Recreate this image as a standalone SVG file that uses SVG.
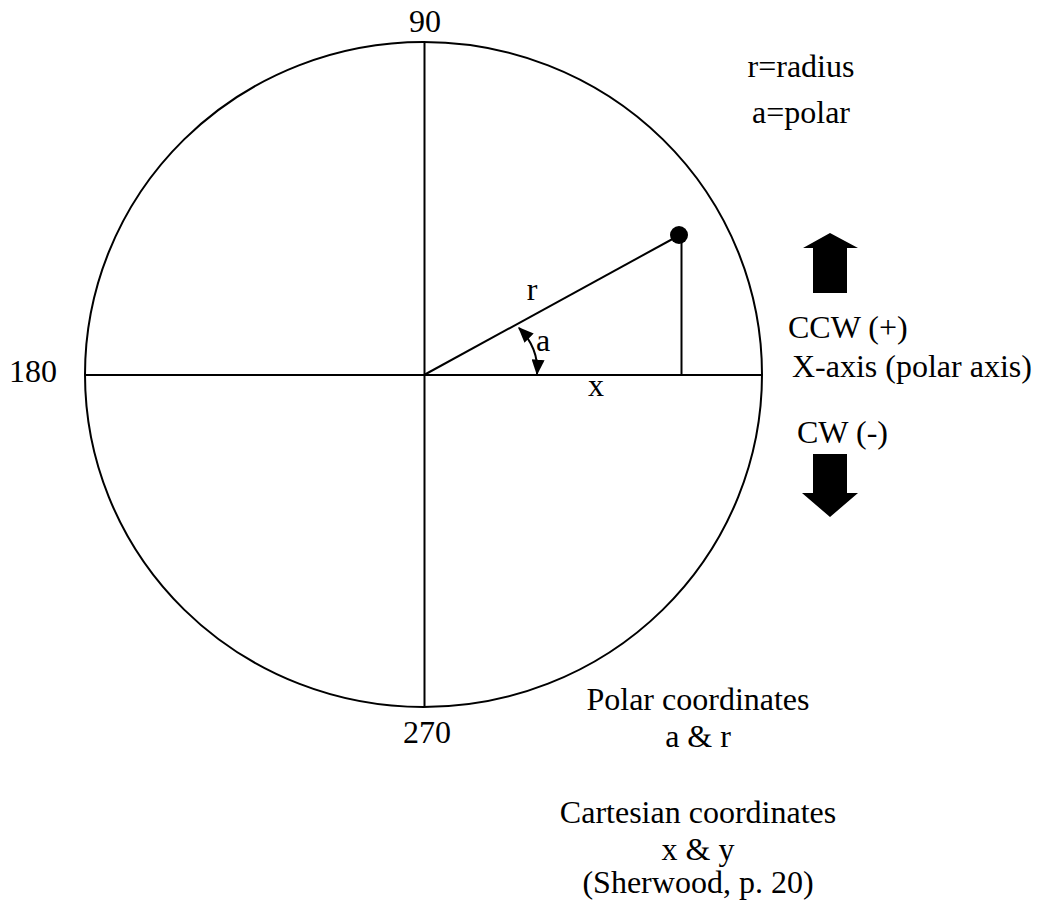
<svg xmlns="http://www.w3.org/2000/svg" width="1044" height="909" viewBox="0 0 1044 909">
<style>
  .ln { stroke:#000; stroke-width:2; fill:none; }
  .t { font-family:"Liberation Serif","Times New Roman",serif; font-size:32px; fill:#000; }
  .m { text-anchor:middle; }
</style>
<defs>
  <marker id="ah2" viewBox="0 0 12 10" refX="11" refY="5" markerWidth="16" markerHeight="13" markerUnits="userSpaceOnUse" orient="auto-start-reverse">
    <path d="M0,0 L12,5 L0,10 z" fill="#000"/>
  </marker>
</defs>
<rect width="1044" height="909" fill="#fff"/>
<g id="circle">
  <ellipse class="ln" cx="423.5" cy="374.5" rx="338.5" ry="332.5"/>
</g>
<g id="connectors">
  <line class="ln" x1="85" y1="375" x2="762" y2="375"/>
  <line class="ln" x1="424.5" y1="42" x2="424.5" y2="707"/>
  <line class="ln" x1="424" y1="375" x2="678" y2="236"/>
  <line class="ln" x1="681.5" y1="236" x2="681.5" y2="375"/>
  <path class="ln" d="M519,328 Q539,348 537,374" marker-start="url(#ah2)" marker-end="url(#ah2)"/>
</g>
<g id="point">
  <circle cx="679" cy="235" r="9" fill="#000"/>
</g>
<g id="labels">
  <text class="t m" x="425" y="32">90</text>
  <text class="t" x="9" y="382">180</text>
  <text class="t m" x="427" y="743">270</text>
  <text class="t m" x="532" y="300">r</text>
  <text class="t m" x="543" y="351">a</text>
  <text class="t m" x="596" y="396">x</text>
  <text class="t m" x="801" y="77">r=radius</text>
  <text class="t m" x="801" y="123">a=polar</text>
  <text class="t" x="788" y="338">CCW (+)</text>
  <text class="t" x="792" y="377">X-axis (polar axis)</text>
  <text class="t" x="797" y="443">CW (-)</text>
  <text class="t m" x="698" y="710">Polar coordinates</text>
  <text class="t m" x="698" y="747">a &amp; r</text>
  <text class="t m" x="698" y="823">Cartesian coordinates</text>
  <text class="t m" x="698" y="860">x &amp; y</text>
  <text class="t m" x="698" y="893">(Sherwood, p. 20)</text>
</g>
<g id="ccw-arrow">
  <path d="M813,293 L813,248 L803,248 L830,233 L858,248 L847,248 L847,293 Z" fill="#000"/>
</g>
<g id="cw-arrow">
  <path d="M813,454 L847,454 L847,493 L858,493 L830,517 L802,493 L813,493 Z" fill="#000"/>
</g>
</svg>
